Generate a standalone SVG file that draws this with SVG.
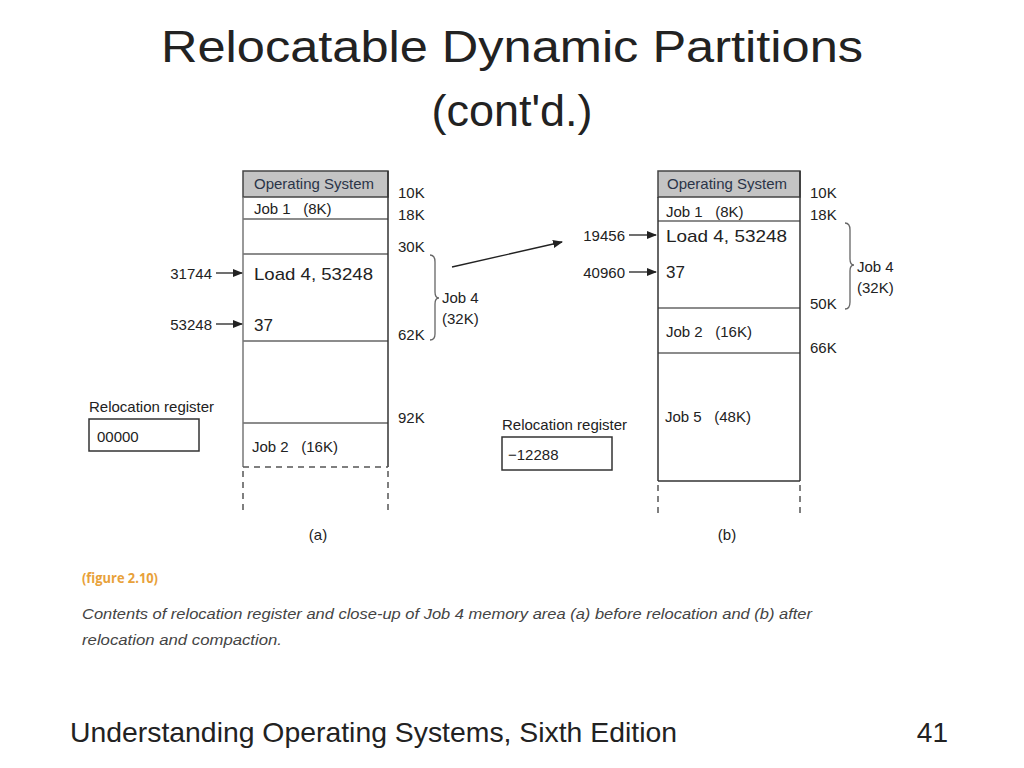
<svg xmlns="http://www.w3.org/2000/svg" width="1024" height="768" viewBox="0 0 1024 768">
<style>
.t{font-family:"Liberation Sans",Arial,sans-serif;fill:#222}
.lbl{font-family:"Liberation Sans",Arial,sans-serif;font-size:15px;fill:#222}
.os{font-family:"Liberation Sans",Arial,sans-serif;font-size:15px;fill:#2b3448}
.mono{font-family:"Liberation Sans",Arial,sans-serif;font-size:17px;fill:#222}
.box{fill:none;stroke:#333;stroke-width:1.5}
.sep{stroke:#666;stroke-width:1.5}
.dash{stroke:#555;stroke-width:1.5;stroke-dasharray:6,5;fill:none}
.brace{fill:none;stroke:#666;stroke-width:1.3}
.arr{stroke:#222;stroke-width:1.3;fill:none;marker-end:url(#ah)}
</style>
<defs>
<marker id="ah" markerWidth="10" markerHeight="8" refX="9" refY="4" orient="auto" markerUnits="userSpaceOnUse">
<path d="M0,0 L10,4 L0,8 Z" fill="#222"/>
</marker>
</defs>
<rect width="1024" height="768" fill="#fff"/>

<text class="t" x="512" y="62" font-size="45" text-anchor="middle" textLength="702" lengthAdjust="spacingAndGlyphs">Relocatable Dynamic Partitions</text>
<text class="t" x="512" y="126" font-size="45" text-anchor="middle">(cont'd.)</text>

<!-- Diagram (a) -->
<g id="memA">
<rect x="243" y="171" width="145" height="26" fill="#c4c4c4" stroke="#444" stroke-width="1.5"/>
<text class="os" x="254" y="189">Operating System</text>
<line class="sep" x1="243" y1="219" x2="388" y2="219"/>
<text class="lbl" x="254" y="214" xml:space="preserve">Job 1   (8K)</text>
<line class="sep" x1="243" y1="254" x2="388" y2="254"/>
<text class="mono" x="254" y="280" textLength="119" lengthAdjust="spacingAndGlyphs">Load 4, 53248</text>
<text class="mono" x="254" y="331">37</text>
<line class="sep" x1="243" y1="341" x2="388" y2="341"/>
<line class="sep" x1="243" y1="423" x2="388" y2="423"/>
<text class="lbl" x="252" y="452" xml:space="preserve">Job 2   (16K)</text>
<line x1="243" y1="197" x2="243" y2="467" stroke="#777" stroke-width="1.5"/>
<line x1="388" y1="171" x2="388" y2="467" stroke="#333" stroke-width="1.5"/>
<line class="dash" x1="243" y1="467" x2="388" y2="467"/>
<line class="dash" x1="243" y1="471" x2="243" y2="512"/>
<line class="dash" x1="388" y1="471" x2="388" y2="512"/>
</g>
<g id="labelsA">
<text class="lbl" x="398" y="198">10K</text>
<text class="lbl" x="398" y="220">18K</text>
<text class="lbl" x="398" y="252">30K</text>
<text class="lbl" x="398" y="340">62K</text>
<text class="lbl" x="398" y="423">92K</text>
<text class="lbl" x="212" y="279" text-anchor="end">31744</text>
<text class="lbl" x="212" y="330" text-anchor="end">53248</text>
<path class="brace" d="M430,255 Q435,255 435,262 L435,292 Q435,298 439,298 Q435,298 435,304 L435,334 Q435,340 430,340"/>
<text class="lbl" x="442" y="303">Job 4</text>
<text class="lbl" x="442" y="324">(32K)</text>
</g>
<g id="regA">
<text class="lbl" x="89" y="412">Relocation register</text>
<rect class="box" x="89" y="419" width="110" height="32"/>
<text class="lbl" x="97" y="442">00000</text>
</g>
<text class="lbl" x="318" y="540" text-anchor="middle">(a)</text>

<!-- Diagram (b) -->
<g id="memB">
<rect x="658" y="171" width="142" height="26" fill="#c4c4c4" stroke="#444" stroke-width="1.5"/>
<text class="os" x="667" y="189">Operating System</text>
<line class="sep" x1="658" y1="221" x2="800" y2="221"/>
<text class="lbl" x="666" y="217" xml:space="preserve">Job 1   (8K)</text>
<text class="mono" x="666" y="242" textLength="121" lengthAdjust="spacingAndGlyphs">Load 4, 53248</text>
<text class="mono" x="666" y="278">37</text>
<line class="sep" x1="658" y1="308" x2="800" y2="308"/>
<text class="lbl" x="666" y="337" xml:space="preserve">Job 2   (16K)</text>
<line class="sep" x1="658" y1="353" x2="800" y2="353"/>
<text class="lbl" x="665" y="422" xml:space="preserve">Job 5   (48K)</text>
<line x1="658" y1="197" x2="658" y2="481" stroke="#333" stroke-width="1.5"/>
<line x1="800" y1="171" x2="800" y2="481" stroke="#333" stroke-width="1.5"/>
<line x1="658" y1="481" x2="800" y2="481" stroke="#333" stroke-width="1.5"/>
<line class="dash" x1="658" y1="485" x2="658" y2="516"/>
<line class="dash" x1="800" y1="485" x2="800" y2="516"/>
</g>
<g id="labelsB">
<text class="lbl" x="810" y="198">10K</text>
<text class="lbl" x="810" y="220">18K</text>
<text class="lbl" x="810" y="309">50K</text>
<text class="lbl" x="810" y="353">66K</text>
<text class="lbl" x="625" y="241" text-anchor="end">19456</text>
<text class="lbl" x="625" y="278" text-anchor="end">40960</text>
<path class="brace" d="M845,223 Q850,223 850,230 L850,259 Q850,265 854,265 Q850,265 850,271 L850,302 Q850,309 845,309"/>
<text class="lbl" x="857" y="272">Job 4</text>
<text class="lbl" x="857" y="293">(32K)</text>
</g>
<g id="regB">
<text class="lbl" x="502" y="430">Relocation register</text>
<rect class="box" x="502" y="437" width="110" height="33"/>
<text class="lbl" x="508" y="460">−12288</text>
</g>
<text class="lbl" x="727" y="540" text-anchor="middle">(b)</text>

<g id="connectors">
<line class="arr" x1="216" y1="273" x2="242" y2="273"/>
<line class="arr" x1="216" y1="324" x2="242" y2="324"/>
<line class="arr" x1="629" y1="235" x2="656" y2="235"/>
<line class="arr" x1="629" y1="272" x2="656" y2="272"/>
<line class="arr" x1="452" y1="267" x2="562" y2="242"/>
</g>

<text x="82" y="583" font-family="'Open Sans','Liberation Sans',sans-serif" font-size="15" font-weight="bold" fill="#e8a13a" textLength="76" lengthAdjust="spacingAndGlyphs">(figure 2.10)</text>
<text x="82" y="619" font-family="'Liberation Sans',Arial,sans-serif" font-size="15" font-style="italic" fill="#444" textLength="730" lengthAdjust="spacingAndGlyphs">Contents of relocation register and close-up of Job 4 memory area (a) before relocation and (b) after</text>
<text x="82" y="645" font-family="'Liberation Sans',Arial,sans-serif" font-size="15" font-style="italic" fill="#444" textLength="200" lengthAdjust="spacingAndGlyphs">relocation and compaction.</text>

<text class="t" x="70" y="742" font-size="28" textLength="607" lengthAdjust="spacingAndGlyphs">Understanding Operating Systems, Sixth Edition</text>
<text class="t" x="948" y="742" font-size="28" text-anchor="end">41</text>
</svg>
